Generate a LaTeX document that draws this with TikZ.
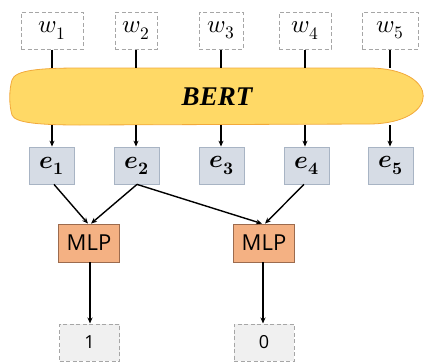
\documentclass[tikz,border=0pt]{standalone}
\usepackage{fontspec}
\usepackage{unicode-math}
\setmathfont{Latin Modern Math}
\usetikzlibrary{arrows.meta}
\newfontfamily\labelfont{Open Sans}
\newfontfamily\bertfont{Liberation Serif}

\definecolor{bertfill}{HTML}{FFD966}
\definecolor{bertedge}{HTML}{F2A93B}
\definecolor{embfill}{HTML}{D6DCE5}
\definecolor{embedge}{HTML}{A8B4C4}
\definecolor{mlpfill}{HTML}{F4B183}
\definecolor{mlpedge}{HTML}{9C6B4E}
\definecolor{outfill}{HTML}{F0F0F0}
\definecolor{dashgray}{HTML}{A6A6A6}

\newcommand{\emb}[1]{$\symbfit{e}_{\symbf{#1}}$}

\tikzset{
  wordbox/.style={draw=dashgray, dashed, line width=1pt, dash pattern=on 4pt off 2.5pt,
    fill=white, minimum height=37pt, inner sep=0pt,
    font=\fontsize{25}{28}\selectfont},
  embbox/.style={draw=embedge, line width=0.8pt, fill=embfill,
    minimum width=45pt, minimum height=37pt, inner sep=0pt,
    font=\fontsize{25}{28}\selectfont},
  mlpbox/.style={draw=mlpedge, line width=0.8pt, fill=mlpfill,
    minimum width=61pt, minimum height=38pt, inner sep=0pt,
    font=\labelfont\fontsize{22}{25}\selectfont},
  outbox/.style={draw=dashgray, dashed, line width=1pt, dash pattern=on 4pt off 2.5pt,
    fill=outfill, minimum width=60pt, minimum height=37pt, inner sep=0pt,
    font=\labelfont\fontsize{18}{22}\selectfont},
  link/.style={line width=1.4pt, black},
  arrowlink/.style={link, -{Stealth[length=6pt,width=5pt]}}
}

\begin{document}
\begin{tikzpicture}[x=1pt, y=-1pt]
  \useasboundingbox (0,0) rectangle (424,362);

  % input tokens
  \node[wordbox, minimum width=62pt] (w1) at (52,30.5)  {$w_1$};
  \node[wordbox, minimum width=42pt] (w2) at (136,30.5) {$w_2$};
  \node[wordbox, minimum width=44pt] (w3) at (221,30.5) {$w_3$};
  \node[wordbox, minimum width=52pt] (w4) at (305,30.5) {$w_4$};
  \node[wordbox, minimum width=56pt] (w5) at (390,30.5) {$w_5$};

  % encoder body
  \draw[bertedge, line width=0.8pt, fill=bertfill]
    (12,80) .. controls (15,70) and (40,68) .. (80,68) -- (370,68)
    .. controls (441,69) and (441,123) .. (370,124) -- (80,125)
    .. controls (40,125) and (15,123) .. (12,115)
    .. controls (9,105) and (9,90) .. (12,80) -- cycle;
  \node[minimum width=414pt, minimum height=57pt, inner sep=0pt,
        font=\bertfont\bfseries\itshape\fontsize{27}{30}\selectfont]
        (bert) at (217,96.5) {BERT};

  % contextual embeddings
  \node[embbox] (e1) at (52,165.5)  {\emb{1}};
  \node[embbox] (e2) at (137,165.5) {\emb{2}};
  \node[embbox] (e3) at (222,165.5) {\emb{3}};
  \node[embbox] (e4) at (307,165.5) {\emb{4}};
  \node[embbox] (e5) at (391,165.5) {\emb{5}};

  % classifiers
  \node[mlpbox] (m1) at (89,243)  {MLP};
  \node[mlpbox] (m2) at (264,243) {MLP};

  % predictions
  \node[outbox] (o1) at (89.5,342.5) {1};
  \node[outbox] (o2) at (264,342.5)  {0};

  % tokens into the encoder
  \foreach \i in {1,...,5}
    \draw[link] (w\i.south) -- (w\i.south |- bert.north);

  % encoder outputs
  \foreach \i/\x in {1/52,2/136,3/221,4/305,5/390}
    \draw[arrowlink] (\x,125) -- (e\i.north -| \x,0);

  % pairs fed to the classifiers
  \draw[arrowlink] ([xshift=2pt]e1.south) -- ([xshift=-1pt]m1.north);
  \draw[arrowlink] (e2.south) -- ([xshift=2pt]m1.north);
  \draw[arrowlink] (e2.south) -- ([xshift=-2pt]m2.north);
  \draw[arrowlink] ([xshift=-3pt]e4.south) -- ([xshift=1pt]m2.north);

  % classifier outputs
  \draw[arrowlink] ([xshift=1pt]m1.south) -- ([xshift=0.5pt]o1.north);
  \draw[arrowlink] ([xshift=-1pt]m2.south) -- ([xshift=-1pt]o2.north);
\end{tikzpicture}
\end{document}
